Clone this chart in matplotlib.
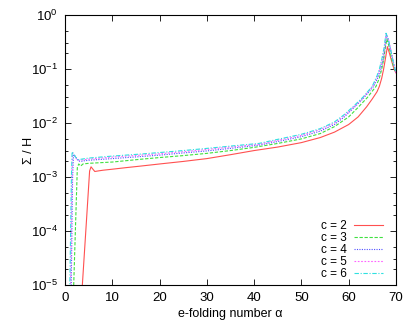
import matplotlib
matplotlib.use('Agg')
import matplotlib.pyplot as plt
from matplotlib.ticker import LogLocator, NullFormatter, MultipleLocator

plt.rcParams['font.family'] = ['Liberation Sans', 'DejaVu Sans']
plt.rcParams['mathtext.default'] = 'regular'

# c = 2
a2 = [3.5, 4.5, 5.2, 5.5, 5.9, 6.3, 7, 8, 10, 13, 16, 20, 25, 30, 35, 40, 45, 50, 54, 57,
      60, 62, 63.8, 65, 66, 66.5, 67, 67.4, 67.8, 68.2, 68.6, 69.1, 69.6, 70]
s2 = [6e-6, 1.4e-4, 1.3e-3, 1.55e-3, 1.4e-3, 1.27e-3, 1.3e-3, 1.34e-3, 1.4e-3, 1.5e-3,
      1.6e-3, 1.75e-3, 1.95e-3, 2.2e-3, 2.6e-3, 3.1e-3, 3.6e-3, 4.35e-3, 5.4e-3, 6.8e-3,
      9.4e-3, 0.013, 0.02, 0.028, 0.038, 0.048, 0.068, 0.1, 0.16, 0.26, 0.2, 0.14, 0.1, 0.085]
# c = 3
a3 = [1.8, 2.6, 2.9, 3.3, 3.8, 5, 10, 16, 20, 25, 30, 35, 40, 45, 50, 54, 57, 60,
      62, 64, 65.8, 66.5, 67, 67.4, 67.8, 68.1, 68.5, 69, 69.5, 70]
s3 = [8e-6, 1.5e-3, 1.75e-3, 1.6e-3, 1.75e-3, 1.8e-3, 1.9e-3, 2.14e-3, 2.3e-3, 2.5e-3,
      2.75e-3, 3.1e-3, 3.55e-3, 4.2e-3, 5.1e-3, 6.4e-3, 8.6e-3, 0.013,
      0.0195, 0.03, 0.048, 0.068, 0.1, 0.15, 0.26, 0.36, 0.27, 0.17, 0.11, 0.088]
# c = 4
a4 = [1.3, 1.6, 1.8, 2.2, 2.8, 3.3, 4, 5, 10, 16, 20, 25, 30, 35, 41, 45, 50, 54, 57, 59,
      61.3, 63, 65.3, 66.2, 66.8, 67.3, 67.7, 68.0, 68.4, 68.9, 69.5, 70]
s4 = [8e-6, 1e-3, 2.6e-3, 2.4e-3, 2.0e-3, 1.95e-3, 2.0e-3, 2.05e-3, 2.2e-3, 2.4e-3,
      2.55e-3, 2.8e-3, 3.05e-3, 3.4e-3, 3.9e-3, 4.55e-3, 5.6e-3, 7.1e-3, 9.4e-3, 0.0128,
      0.02, 0.028, 0.048, 0.07, 0.1, 0.15, 0.25, 0.43, 0.35, 0.22, 0.13, 0.087]
# c = 5
a5 = [1.15, 1.45, 1.6, 2.0, 2.5, 3.0, 4, 5, 10, 16, 20, 25, 30, 35, 41, 45, 50, 54, 57, 59,
      61.1, 63, 65.1, 66.1, 66.6, 67.1, 67.6, 67.95, 68.35, 68.85, 69.45, 70]
s5 = [8e-6, 1e-3, 2.8e-3, 2.5e-3, 2.15e-3, 2.05e-3, 2.1e-3, 2.15e-3, 2.35e-3, 2.55e-3,
      2.7e-3, 2.95e-3, 3.25e-3, 3.6e-3, 4.05e-3, 4.8e-3, 5.9e-3, 7.6e-3, 0.01, 0.0135,
      0.02, 0.029, 0.048, 0.073, 0.1, 0.15, 0.25, 0.45, 0.37, 0.24, 0.135, 0.086]
# c = 6
a6 = [1.0, 1.35, 1.5, 1.8, 2.3, 2.8, 3.5, 5, 10, 16, 20, 25, 30, 35, 41, 45, 50, 54, 57, 59,
      60.9, 63, 65, 66, 66.5, 67, 67.5, 67.9, 68.3, 68.8, 69.4, 70]
s6 = [8e-6, 1e-3, 2.95e-3, 2.7e-3, 2.3e-3, 2.1e-3, 2.15e-3, 2.25e-3, 2.45e-3, 2.67e-3,
      2.85e-3, 3.1e-3, 3.4e-3, 3.75e-3, 4.2e-3, 5.0e-3, 6.2e-3, 7.9e-3, 0.0105, 0.0142,
      0.02, 0.03, 0.048, 0.075, 0.1, 0.15, 0.25, 0.46, 0.38, 0.25, 0.14, 0.085]

fig = plt.figure(figsize=(4.09, 3.27), dpi=100)
ax = fig.add_axes([0.159, 0.128, 0.809, 0.826])

ax.plot(a2, s2, color='#ff5050', lw=0.8, label='c = 2')
ax.plot(a3, s3, color='#40e040', lw=0.8, dashes=(3, 1.5), label='c = 3')
ax.plot(a4, s4, color='#5050ff', lw=0.8, dashes=(1, 1.2), label='c = 4')
ax.plot(a5, s5, color='#ff60ff', lw=0.8, dashes=(1.5, 1.5), label='c = 5')
ax.plot(a6, s6, color='#30e0e0', lw=0.8, dashes=(4, 1.5, 1, 1.5), label='c = 6')

ax.set_yscale('log')
ax.set_xlim(0, 70)
ax.set_ylim(1e-5, 1)
ax.xaxis.set_major_locator(MultipleLocator(10))
ax.yaxis.set_major_locator(LogLocator(base=10, numticks=10))
ax.yaxis.set_minor_locator(LogLocator(base=10, subs=[2, 3, 5], numticks=10))
ax.yaxis.set_minor_formatter(NullFormatter())
ax.tick_params(which='both', direction='in', top=True, right=True, labelsize=9.5, width=0.6)
ax.tick_params(which='major', length=4, pad=5)
ax.tick_params(which='minor', length=2.5)
for sp in ax.spines.values():
    sp.set_linewidth(0.8)

ax.set_xlabel('e-folding number α', fontsize=9)
ax.set_ylabel('Σ / H', fontsize=9)
ax.xaxis.set_label_coords(0.5, -0.085)
ax.yaxis.set_label_coords(-0.092, 0.5)

ax.legend(loc='lower right', frameon=False, fontsize=8.5, markerfirst=False,
          handlelength=2.5, handletextpad=0.6, labelspacing=0.0,
          borderaxespad=0.0, bbox_to_anchor=(0.976, 0.0))

fig.savefig('out.png', dpi=100)
